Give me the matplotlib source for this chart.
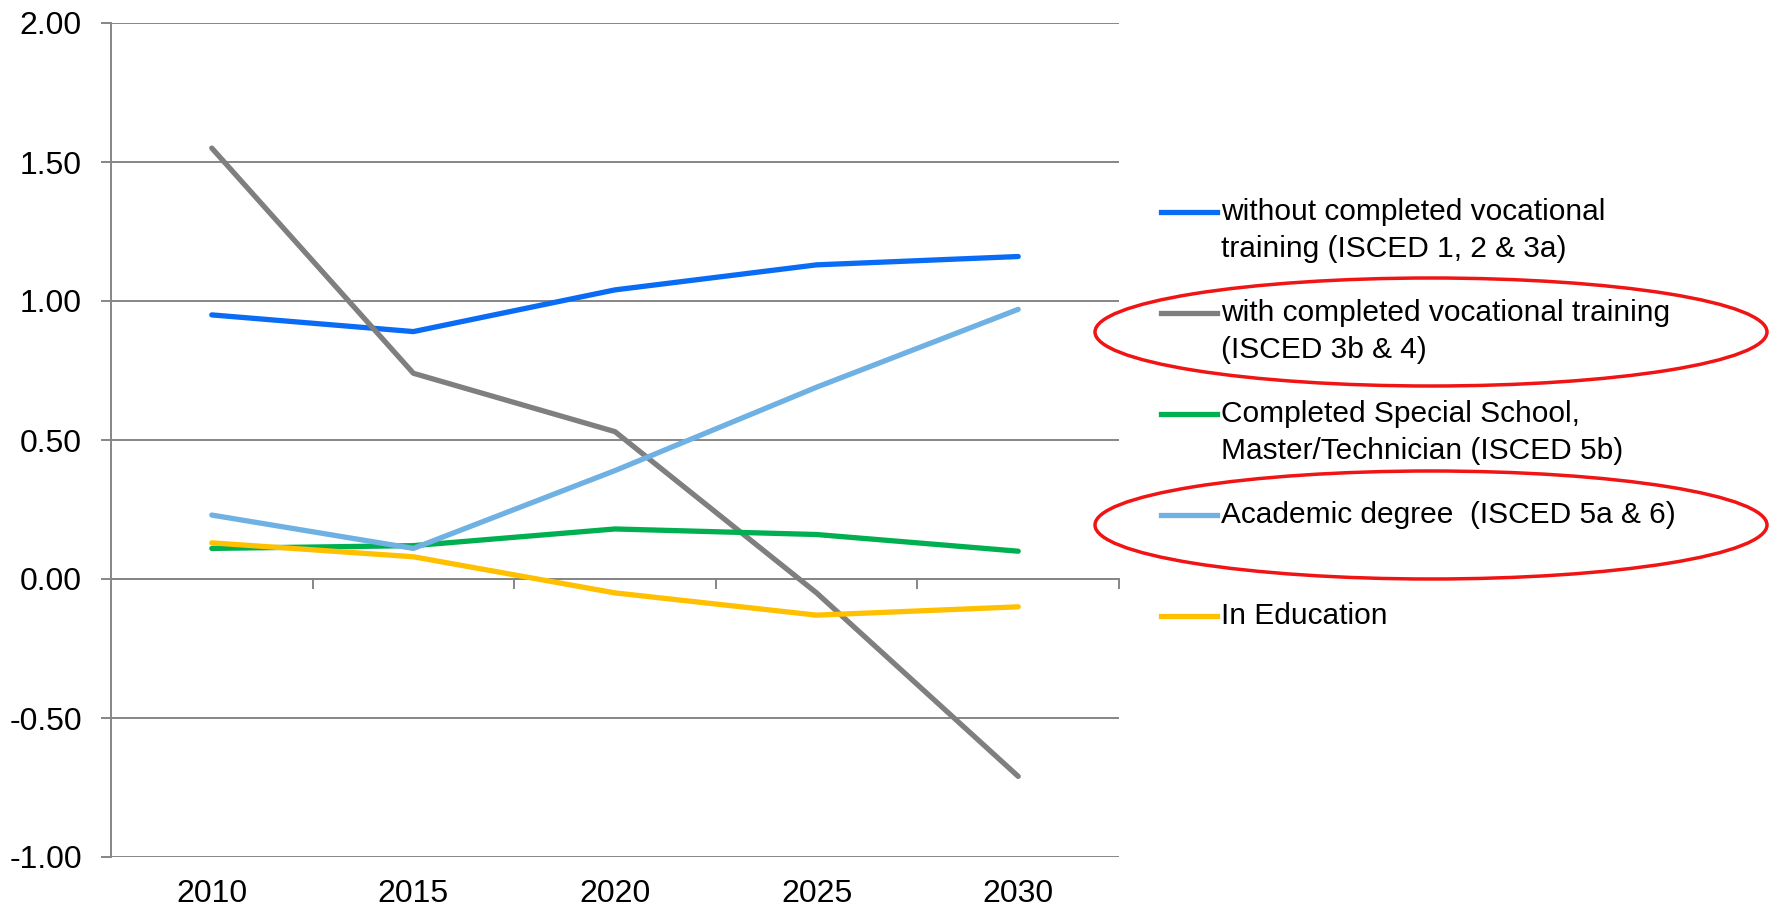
import matplotlib
matplotlib.use('Agg')
import matplotlib.pyplot as plt
from matplotlib.lines import Line2D
from matplotlib.patches import Ellipse

plt.rcParams['font.family'] = ['Liberation Sans', 'DejaVu Sans']

years = ['2010', '2015', '2020', '2025', '2030']
labels = ['without completed vocational\ntraining (ISCED 1, 2 & 3a)',
          'with completed vocational training\n(ISCED 3b & 4)',
          'Completed Special School,\nMaster/Technician (ISCED 5b)',
          'Academic degree  (ISCED 5a & 6)',
          'In Education']
without_voc = [0.95, 0.89, 1.04, 1.13, 1.16]
with_voc = [1.55, 0.74, 0.53, -0.05, -0.71]
special = [0.11, 0.12, 0.18, 0.16, 0.10]
academic = [0.23, 0.11, 0.39, 0.69, 0.97]
in_edu = [0.13, 0.08, -0.05, -0.13, -0.10]
series = [without_voc, with_voc, special, academic, in_edu]
colors = ['#0A6CF5', '#7F7F7F', '#00B050', '#6FB1E3', '#FFC000']
circled = [1, 3]

W, H = 1771, 909
fig = plt.figure(figsize=(W / 100, H / 100), dpi=100)
ax = fig.add_axes([111 / W, 1 - 857 / H, (1119 - 111) / W, (857 - 23) / H])

xs = [i + 0.5 for i in range(len(years))]
for vals, c in zip(series, colors):
    ax.plot(xs, vals, color=c, lw=3.8, solid_capstyle='round', zorder=3)

grid_c = '#868686'
ax.set_xlim(0, len(years))
ax.set_ylim(-1, 2)
yt = [-1, -0.5, 0, 0.5, 1, 1.5, 2]
ax.set_yticks(yt)
ax.set_yticklabels(['%.2f' % v for v in yt])
ax.yaxis.grid(True, color=grid_c, lw=1.4)
ax.set_axisbelow(True)
ax.tick_params(axis='y', length=7, width=1.4, color=grid_c, pad=14, labelsize=23)
ax.set_xticks(xs)
ax.set_xticklabels(years)
ax.tick_params(axis='x', length=0, pad=16, labelsize=23)
for s in ['top', 'right', 'bottom']:
    ax.spines[s].set_visible(False)
ax.spines['left'].set_color(grid_c)
ax.spines['left'].set_linewidth(1.4)

# category axis crossing at zero, tick marks between categories
sec = ax.secondary_xaxis(1 / 3)
sec.set_xticks(range(1, len(years) + 1))
sec.set_xticklabels([])
sec.tick_params(axis='x', direction='out', length=7, width=1.4, color=grid_c)
sec.spines['bottom'].set_color(grid_c)
sec.spines['bottom'].set_linewidth(1.4)

# legend by hand so the key sits beside the first text line
first_line = [212, 313, 414, 515, 616]
line_h = 37
for lab, c, y in zip(labels, colors, first_line):
    n = lab.count('\n')
    fig.add_artist(Line2D([1161 / W, 1217 / W], [1 - y / H, 1 - y / H],
                          color=c, lw=3.8, transform=fig.transFigure))
    fig.text(1221 / W, 1 - (y + n * line_h / 2) / H, lab, fontsize=21.5,
             va='center', ha='left', linespacing=1.42)

ell_y = [332, 525]
for i, y in zip(circled, ell_y):
    fig.add_artist(Ellipse((1431 / W, 1 - y / H), 672 / W, 108 / H,
                           transform=fig.transFigure, fill=False,
                           edgecolor='#F01414', lw=2.5))

fig.savefig('out.png', dpi=100)
